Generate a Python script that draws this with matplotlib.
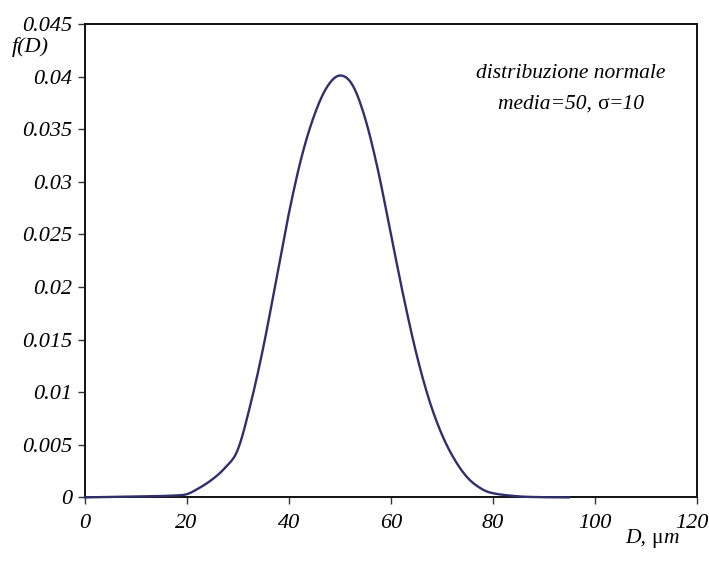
import numpy as np
import matplotlib
matplotlib.use("Agg")
import matplotlib.pyplot as plt
from matplotlib.transforms import ScaledTranslation

# data (D in micrometres, f(D))
d_values = [0, 5, 10, 15, 17.5, 20, 22.5, 25, 27.5, 30, 32.5, 35, 37.5, 40, 42.5, 45, 47.5,
            50, 52.5, 55, 57.5, 60, 62.5, 65, 67.5, 70, 72.5, 75, 77.5, 80, 85, 90, 95]
f_values = [0.0, 0.00004, 0.00008, 0.00013, 0.00018, 0.0003, 0.0009, 0.0017, 0.0028, 0.0045,
            0.0088, 0.0142, 0.0205, 0.0269, 0.0323, 0.0363, 0.0390,
            0.0401, 0.0392, 0.0360, 0.0311, 0.0251, 0.0191, 0.0137, 0.0093, 0.0060, 0.0036,
            0.0019, 0.0009, 0.0004, 0.0001, 0.00002, 0.0]
x_ticks = [0, 20, 40, 60, 80, 100, 120]
y_ticks = [0, 0.005, 0.01, 0.015, 0.02, 0.025, 0.03, 0.035, 0.04, 0.045]
y_tick_labels = ["0", "0.005", "0.01", "0.015", "0.02", "0.025", "0.03", "0.035", "0.04", "0.045"]


def catmull_rom(xs, ys, n=20):
    """Smoothed line like a spreadsheet 'smoothed line' rendering."""
    xs = np.asarray(xs, float)
    ys = np.asarray(ys, float)
    px = np.concatenate([[xs[0]], xs, [xs[-1]]])
    py = np.concatenate([[ys[0]], ys, [ys[-1]]])
    outx, outy = [], []
    for i in range(1, len(px) - 2):
        p0 = np.array([px[i - 1], py[i - 1]])
        p1 = np.array([px[i], py[i]])
        p2 = np.array([px[i + 1], py[i + 1]])
        p3 = np.array([px[i + 2], py[i + 2]])
        c1 = p1 + (p2 - p0) / 6.0
        c2 = p2 - (p3 - p1) / 6.0
        t = np.linspace(0, 1, n)[:, None]
        pts = ((1 - t) ** 3) * p1 + 3 * ((1 - t) ** 2) * t * c1 + 3 * (1 - t) * t ** 2 * c2 + t ** 3 * p2
        outx.extend(pts[:, 0])
        outy.extend(pts[:, 1])
    return np.array(outx), np.array(outy)


plt.rcParams['font.family'] = ['Liberation Serif', 'DejaVu Serif']

fig = plt.figure(figsize=(7.09, 5.66), dpi=100)
ax = fig.add_axes([84.5 / 709, 1 - 497.4 / 566, (697 - 84.5) / 709, (497.4 - 24) / 566])

sx, sy = catmull_rom(d_values, f_values)
ax.plot(sx, sy, color='#2f2f6b', lw=1.7, solid_capstyle='round', zorder=3, clip_on=False)

ax.set_xlim(0, 120)
ax.set_ylim(0, 0.045)
ax.set_xticks(x_ticks)
ax.set_xticklabels([str(v) for v in x_ticks], fontsize=16, style='italic')
ax.set_yticks(y_ticks)
ax.set_yticklabels(y_tick_labels, fontsize=16, style='italic')
for s in ax.spines.values():
    s.set_linewidth(1.4)
    s.set_color('#111111')
ax.tick_params(direction='out', length=5, width=1.0, color='#333333')
ax.tick_params(axis='x', pad=7)
ax.tick_params(axis='y', pad=4)

# nudge the last x label so it stays inside the canvas
last = ax.get_xticklabels()[-1]
last.set_transform(last.get_transform() + ScaledTranslation(-5 / 100, 0, fig.dpi_scale_trans))

fig.canvas.draw()
renderer = fig.canvas.get_renderer()


def draw_segments(x_center_px, y_center_px, segments, fontsize):
    """Draw a line of text made of segments (text, style) centred at a pixel position."""
    widths = []
    for txt, st in segments:
        t = fig.text(0, 0, txt, fontsize=fontsize, style=st)
        widths.append(t.get_window_extent(renderer).width)
        t.remove()
    total = sum(widths)
    x = x_center_px - total / 2
    for (txt, st), w in zip(segments, widths):
        fig.text(x / 709, 1 - y_center_px / 566, txt, fontsize=fontsize, style=st,
                 ha='left', va='center_baseline')
        x += w


fig.text(12 / 709, 1 - 47 / 566, "f(D)", fontsize=16, style='italic', ha='left', va='center')
draw_segments(571, 71, [("distribuzione normale", 'italic')], 15.5)
draw_segments(571, 102, [("media=50, ", 'italic'), ("σ", 'normal'), ("=10", 'italic')], 15.5)
draw_segments(652, 536, [("D, ", 'italic'), ("μ", 'normal'), ("m", 'italic')], 15.5)

fig.savefig("out.png", dpi=100, facecolor='white')
